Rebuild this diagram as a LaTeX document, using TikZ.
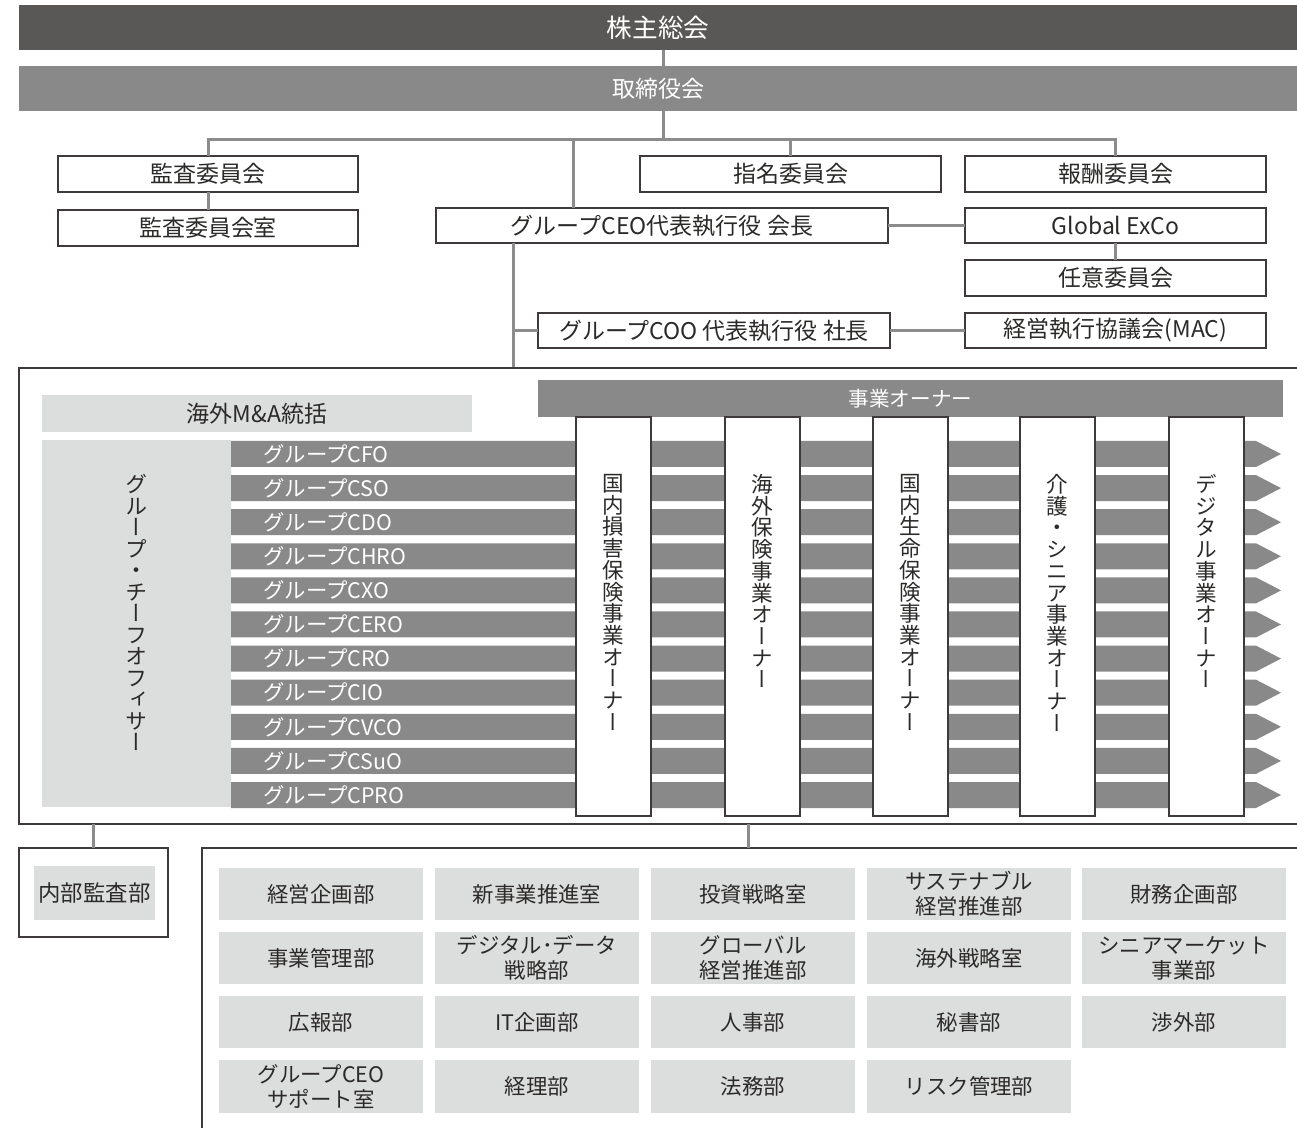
\documentclass[tikz,border=0pt]{standalone}
\usepackage{fontspec}
\setmainfont{Noto Sans CJK JP}
\newfontfamily\vjp[RawFeature=+vert]{Noto Sans CJK JP}
\definecolor{darkbar}{HTML}{5A5856}
\definecolor{midbar}{HTML}{898989}
\definecolor{lightg}{HTML}{DCDDDD}
\definecolor{linedark}{HTML}{3E3A39}
\definecolor{conng}{HTML}{8C8C8C}
\definecolor{txt}{HTML}{2B2A29}
\newcommand\bx[7]{\node[#7, minimum width={(#4-#2)*0.5pt}, minimum height={(#5-#3)*0.5pt}] (#1) at ({(#2+#4)/2},{(#3+#5)/2}) {#6};}
\tikzset{
 wbox/.style={draw=linedark, line width=0.6pt, fill=white, inner sep=0pt, outer sep=0pt, text=txt, font=\fontsize{11.5}{13}\selectfont},
 gbox/.style={fill=lightg, inner sep=0pt, outer sep=0pt, text=txt, align=center, font=\fontsize{10.7}{12.5}\selectfont},
 titlebar/.style={inner sep=0pt, outer sep=0pt, text=white, font=\fontsize{11.5}{13}\selectfont},
 colbox/.style={draw=linedark, line width=0.9pt, fill=white, inner sep=0pt, outer sep=0pt},
 vtext/.style={align=center, anchor=north, text=txt, inner sep=0pt, font=\vjp\fontsize{10.8}{10.85}\selectfont},
 barlabel/.style={text=white, anchor=west, inner sep=0pt, font=\fontsize{10.7}{12}\selectfont},
 conn/.style={draw=conng, line width=1.5pt},
 framel/.style={draw=linedark, line width=0.9pt}
}
\begin{document}
\begin{tikzpicture}[x=0.5pt,y=-0.5pt]
\useasboundingbox (0,0) rectangle (1297,1128);
% top bars
\bx{kabu}{19}{5}{1297}{50}{株主総会}{titlebar, fill=darkbar, font=\fontsize{12.8}{14}\selectfont}
\bx{tori}{19}{66}{1297}{111}{取締役会}{titlebar, fill=midbar}
% committee boxes
\bx{kansa}{58}{156}{358}{192}{監査委員会}{wbox}
\bx{kansashitsu}{58}{210}{358}{246}{監査委員会室}{wbox}
\bx{shimei}{640}{156}{941}{192}{指名委員会}{wbox}
\bx{hoshu}{965}{156}{1266}{192}{報酬委員会}{wbox}
\bx{ceo}{436}{208}{888}{243}{グループCEO代表執行役 会長}{wbox}
\bx{exco}{965}{208}{1266}{243}{Global ExCo}{wbox}
\bx{nini}{965}{260}{1266}{296}{任意委員会}{wbox}
\bx{coo}{538}{313}{890}{348}{グループCOO 代表執行役 社長}{wbox}
\bx{mac}{965}{313}{1266}{348}{経営執行協議会(MAC)}{wbox}
% connectors top
\coordinate (xk) at (663,0);
\coordinate (bus) at (663,140);
\coordinate (xc) at (573,0);
\coordinate (xd) at (513,0);
\coordinate (bigTL) at (19,368);
\coordinate (bigBR) at (1297,824);
\coordinate (lowTL) at (202,848);
\coordinate (xl) at (748,0);
\draw[conn] (xk |- kabu.south) -- (xk |- tori.north);
\draw[conn] (xk |- tori.south) -- (bus);
\draw[conn] (kansa.north) -- (kansa.north |- bus) -- (hoshu.north |- bus) -- (hoshu.north);
\draw[conn] (shimei.north) -- (shimei.north |- bus);
\draw[conn] (xc |- ceo.north) -- (xc |- bus);
\draw[conn] (kansa.south) -- (kansashitsu.north);
\draw[conn] (ceo.east) -- (exco.west);
\draw[conn] (exco.south) -- (nini.north);
\draw[conn] (xd |- ceo.south) -- (xd |- bigTL);
\draw[conn] (xd |- coo.west) -- (coo.west);
\draw[conn] (coo.east) -- (mac.west);
% big frame
\draw[framel] (1297,368) -- (bigTL) -- (19,824) -- (bigBR);
\bx{ma}{42}{395}{472}{432}{海外M\&A統括}{gbox, font=\fontsize{11.5}{13}\selectfont}
\bx{panel}{42}{440}{231}{807}{}{fill=lightg, inner sep=0pt, outer sep=0pt}
\node[vtext, font=\vjp\fontsize{11}{10.75}\selectfont] (paneltext) at (136,474) {グ\\ル\\ー\\プ\\・\\チ\\ー\\フ\\オ\\フ\\ィ\\サ\\ー};
% officer bars
\foreach \t [count=\i from 0] in {CFO,CSO,CDO,CHRO,CXO,CERO,CRO,CIO,CVCO,CSuO,CPRO}{
  \pgfmathsetmacro\yt{441+34.1*\i}
  \fill[midbar] (231,\yt) -- (1256,\yt) -- (1281,\yt+13) -- (1256,\yt+26) -- (231,\yt+26) -- cycle;
  \node[barlabel] (bar\t) at (263,\yt+13) {グループ\t};
}
% business owners
\bx{owner}{538}{380}{1283}{417}{事業オーナー}{titlebar, fill=midbar, font=\fontsize{10.3}{12}\selectfont}
\bx{col1}{576}{417}{651}{816}{}{colbox}
\bx{col2}{725}{417}{800}{816}{}{colbox}
\bx{col3}{873}{417}{948}{816}{}{colbox}
\bx{col4}{1020}{417}{1095}{816}{}{colbox}
\bx{col5}{1169}{417}{1244}{816}{}{colbox}
\node[vtext] (col1t) at (col1.north |- 0,474) {国\\内\\損\\害\\保\\険\\事\\業\\オ\\ー\\ナ\\ー};
\node[vtext] (col2t) at (col2.north |- 0,474) {海\\外\\保\\険\\事\\業\\オ\\ー\\ナ\\ー};
\node[vtext] (col3t) at (col3.north |- 0,474) {国\\内\\生\\命\\保\\険\\事\\業\\オ\\ー\\ナ\\ー};
\node[vtext] (col4t) at (col4.north |- 0,474) {介\\護\\・\\シ\\ニ\\ア\\事\\業\\オ\\ー\\ナ\\ー};
\node[vtext] (col5t) at (col5.north |- 0,474) {デ\\ジ\\タ\\ル\\事\\業\\オ\\ー\\ナ\\ー};
% lower left
\bx{naibuOuter}{19}{848}{168}{937}{}{framel, fill=white, inner sep=0pt, outer sep=0pt}
\bx{naibu}{34}{866}{155}{920}{内部監査部}{gbox, font=\fontsize{11.2}{13}\selectfont}
\draw[conn] (naibuOuter.north) -- (naibuOuter.north |- bigBR);
% lower right frame
\draw[framel] (1297,848) -- (lowTL) -- (202,1128);
\draw[conn] (xl |- bigBR) -- (xl |- lowTL);
% grid
\bx{g11}{219}{868}{423}{920}{経営企画部}{gbox}
\bx{g12}{435}{868}{639}{920}{新事業推進室}{gbox}
\bx{g13}{651}{868}{855}{920}{投資戦略室}{gbox}
\bx{g14}{867}{868}{1071}{920}{サステナブル\\経営推進部}{gbox}
\bx{g15}{1082}{868}{1286}{920}{財務企画部}{gbox}
\bx{g21}{219}{932}{423}{984}{事業管理部}{gbox}
\bx{g22}{435}{932}{639}{984}{デジタル･データ\\戦略部}{gbox}
\bx{g23}{651}{932}{855}{984}{グローバル\\経営推進部}{gbox}
\bx{g24}{867}{932}{1071}{984}{海外戦略室}{gbox}
\bx{g25}{1082}{932}{1286}{984}{シニアマーケット\\事業部}{gbox}
\bx{g31}{219}{996}{423}{1048}{広報部}{gbox}
\bx{g32}{435}{996}{639}{1048}{IT企画部}{gbox}
\bx{g33}{651}{996}{855}{1048}{人事部}{gbox}
\bx{g34}{867}{996}{1071}{1048}{秘書部}{gbox}
\bx{g35}{1082}{996}{1286}{1048}{渉外部}{gbox}
\bx{g41}{219}{1060}{423}{1113}{グループCEO\\サポート室}{gbox}
\bx{g42}{435}{1060}{639}{1113}{経理部}{gbox}
\bx{g43}{651}{1060}{855}{1113}{法務部}{gbox}
\bx{g44}{867}{1060}{1071}{1113}{リスク管理部}{gbox}
\end{tikzpicture}
\end{document}
